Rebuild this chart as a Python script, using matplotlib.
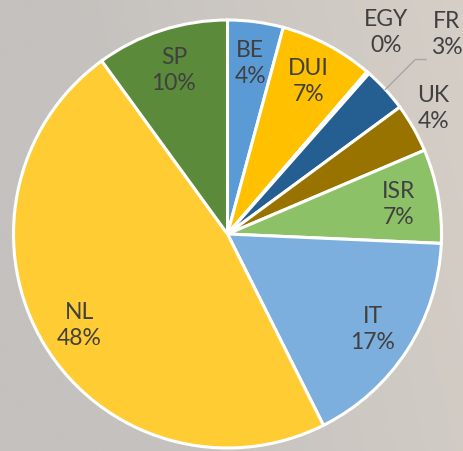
import numpy as np
import matplotlib
matplotlib.use("Agg")
import matplotlib.pyplot as plt

categories = ["BE", "DUI", "EGY", "FR", "UK", "ISR", "IT", "NL", "SP"]
values = [4.2, 7.1, 0.2, 3.4, 3.7, 7.1, 16.9, 47.4, 10.0]
pct_labels = ["4%", "7%", "0%", "3%", "4%", "7%", "17%", "48%", "10%"]

colors = ["#5B9BD5", "#FFC000", "#A5A5A5", "#255E91", "#997300",
          "#8CC168", "#7CAFDD", "#FFCD33", "#5A8A3A"]
label_r = {"EGY": 1.2, "FR": 1.39, "UK": 1.13}
label_ang_shift = {"EGY": -3.0, "FR": 0.0, "UK": -1.8}

W, H, DPI = 463, 452, 100
fig = plt.figure(figsize=(W / DPI, H / DPI), dpi=DPI)

# background
bg = fig.add_axes([0, 0, 1, 1])
bg.set_axis_off()
xs = np.linspace(0, 1, 200)
ys = np.linspace(0, 1, 200)
X, Y = np.meshgrid(xs, ys)
t = np.clip(X * 0.9 + (1 - Y) * 0.2 - 0.3, 0, 1)
c1 = np.array([196, 193, 190]) / 255
c2 = np.array([218, 210, 201]) / 255
img = c1[None, None, :] * (1 - t[..., None]) + c2[None, None, :] * t[..., None]
bg.imshow(img, extent=[0, 1, 0, 1], aspect="auto", origin="upper")
bg.set_xlim(0, 1)
bg.set_ylim(0, 1)

# pie axes: center (227,235), radius ~214 px
cx, cy, R = 227.5, 235.0, 214.0
ax = fig.add_axes([(cx - R) / W, (H - cy - R) / H, 2 * R / W, 2 * R / H])
ax.set_axis_off()
wedges, _ = ax.pie(values, colors=colors, startangle=90, counterclock=False,
                   radius=1.0,
                   wedgeprops=dict(edgecolor="white", linewidth=2.2))
ax.set_xlim(-1, 1)
ax.set_ylim(-1, 1)
ax.set_aspect("auto")

font = ["Lato", "DejaVu Sans"]
total = sum(values)
cum = 0.0
for cat, v, p in zip(categories, values, pct_labels):
    mid = cum + v / 2
    cum += v
    ang = np.deg2rad(90 - mid / total * 360 - label_ang_shift.get(cat, 0.0))
    r = label_r.get(cat, 0.81)
    x, y = r * np.cos(ang), r * np.sin(ang)
    ax.text(x, y, f"{cat}\n{p}", ha="center", va="center", fontsize=16.5,
            color="#404040", family=font, linespacing=1.3, clip_on=False)
    if cat == "FR":
        a0 = np.deg2rad(90 - mid / total * 360)
        x0, y0 = 1.0 * np.cos(a0), 1.0 * np.sin(a0)
        ax.plot([x0, x0 + 0.14, x0 + 0.19], [y0, y0 + 0.14, y0 + 0.14],
                color="#A6A6A6", lw=1.0, clip_on=False)

fig.savefig("out.png", dpi=DPI)
